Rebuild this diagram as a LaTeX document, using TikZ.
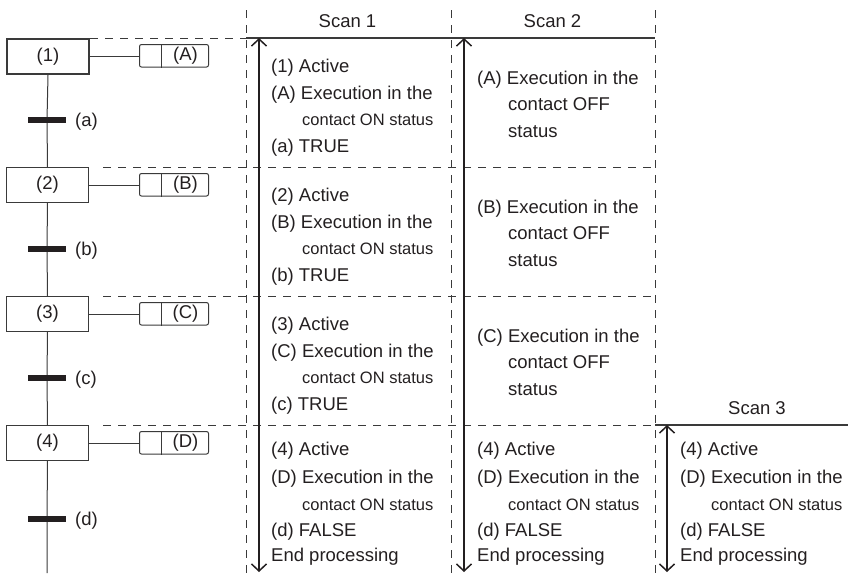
\documentclass[tikz,border=0pt]{standalone}
\usepackage{fontspec}
\setmainfont{Liberation Sans}
\usetikzlibrary{arrows.meta}
\definecolor{ink}{HTML}{231F20}
\definecolor{lin}{HTML}{3A3A3A}
\begin{document}
\begin{tikzpicture}[x=1pt,y=-1pt, color=ink, font=\fontsize{18.5}{22}\selectfont,
 stepbox/.style={draw=lin, line width=1pt, minimum width=82pt, minimum height=35pt, inner sep=0, anchor=north west},
 actbox/.style={draw=lin, line width=1pt, rounded corners=2pt, minimum width=69pt, minimum height=22.5pt, inner sep=0, anchor=north west},
 bar/.style={fill=ink, minimum width=38pt, minimum height=6pt, inner sep=0},
 txt/.style={anchor=west, inner sep=0, yshift=-1.5pt},
 small/.style={font=\fontsize{16.5}{20}\selectfont},
 thinln/.style={draw=lin, line width=1pt},
 dsh/.style={draw=lin, line width=0.9pt, dash pattern=on 8pt off 7pt},
 solidtop/.style={draw=lin, line width=1.5pt},
 scanarrow/.style={draw=ink, line width=1.5pt, {Straight Barb[length=7pt,width=15pt]}-{Straight Barb[length=7pt,width=15pt]}},
]
\useasboundingbox (0,0) rectangle (848,573);

% grid lines
\coordinate (v1t) at (246,10); \coordinate (v1b) at (246,573);
\coordinate (v2t) at (451,10); \coordinate (v2b) at (451,573);
\coordinate (v3t) at (655,10); \coordinate (v3b) at (655,573);
\draw[dsh] (v1t) -- (v1b);
\draw[dsh] (v2t) -- (v2b);
\draw[dsh] (v3t) -- (v3b);

\coordinate (h0a) at (90,38); \coordinate (h0b) at (246,38); \coordinate (h0c) at (655,38);
\draw[dsh] (h0a) -- (h0b);
\draw[solidtop] (h0b) -- (h0c);
\coordinate (h1a) at (103,167); \coordinate (h1b) at (655,167);
\coordinate (h2a) at (103,296); \coordinate (h2b) at (655,296);
\coordinate (h3a) at (103,425); \coordinate (h3b) at (655,425); \coordinate (h3c) at (848,425);
\draw[dsh] (h1a) -- (h1b);
\draw[dsh] (h2a) -- (h2b);
\draw[dsh] (h3a) -- (h3b);
\draw[solidtop] (h3b) -- (h3c);

% scan arrows
\coordinate (r1t) at (259,38); \coordinate (r1b) at (259,572);
\coordinate (r2t) at (464,38); \coordinate (r2b) at (464,572);
\coordinate (r3t) at (667,425); \coordinate (r3b) at (667,572);
\draw[scanarrow] (r1t) -- (r1b);
\draw[scanarrow] (r2t) -- (r2b);
\draw[scanarrow] (r3t) -- (r3b);

\node[txt, anchor=center] (sc1) at (347.5,20) {Scan 1};
\node[txt, anchor=center] (sc2) at (552.5,20) {Scan 2};
\node[txt, anchor=center] (sc3) at (757,407) {Scan 3};

% SFC steps
\node[stepbox, line width=2pt] (s1) at (6,38) {(1)};
\node[stepbox] (s2) at (6,167) {(2)};
\node[stepbox] (s3) at (6,296) {(3)};
\node[stepbox] (s4) at (6,425) {(4)};

\foreach \k/\L in {1/A,2/B,3/C,4/D}{
  \node[actbox] (a\k) at (139,{44+129*(\k-1)}) {};
  \draw[thinln] ([xshift=22pt]a\k.north west) -- ([xshift=22pt]a\k.south west);
  \node[inner sep=0] (al\k) at ([xshift=-23.5pt]a\k.east) {(\L)};
  \draw[thinln] (s\k.east) -- (s\k.east -| a\k.west);
}

\node[bar] (t1) at (47,120) {};
\node[bar] (t2) at (47,249) {};
\node[bar] (t3) at (47,378) {};
\node[bar] (t4) at (47,519) {};
\node[txt] (tl1) at (75,120) {(a)};
\node[txt] (tl2) at (75,249) {(b)};
\node[txt] (tl3) at (75,378) {(c)};
\node[txt] (tl4) at (75,519) {(d)};
\coordinate (send) at (47,573);
\draw[thinln] (s1.south) -- (t1) -- (s2.north);
\draw[thinln] (s2.south) -- (t2) -- (s3.north);
\draw[thinln] (s3.south) -- (t3) -- (s4.north);
\draw[thinln] (s4.south) -- (t4) -- (send);

% Scan 1 texts rows 1-3
\foreach \k/\N/\L/\l in {0/1/A/a,1/2/B/b,2/3/C/c}{
  \node[txt] (p\N) at (271,{66+129*\k}) {(\N) Active};
  \node[txt] (q\N) at (271,{93+129*\k}) {(\L) Execution in the};
  \node[txt, small] (r\N) at (302,{118+129*\k}) {contact ON status};
  \node[txt] (u\N) at (271,{146+129*\k}) {(\l) TRUE};
  % Scan 2
  \node[txt] (w\N) at (477,{78+129*\k}) {(\L) Execution in the};
  \node[txt] (x\N) at (508,{103+129*\k}) {contact OFF};
  \node[txt] (y\N) at (508,{130+129*\k}) {status};
}

% Row 4 in three scans
\foreach \c/\X in {1/271,2/477,3/680}{
  \node[txt] (f\c a) at (\X,449) {(4) Active};
  \node[txt] (f\c b) at (\X,477) {(D) Execution in the};
  \node[txt, small] (f\c c) at (\X+31,503) {contact ON status};
  \node[txt] (f\c d) at (\X,530) {(d) FALSE};
  \node[txt] (f\c e) at (\X,555) {End processing};
}
\end{tikzpicture}
\end{document}
